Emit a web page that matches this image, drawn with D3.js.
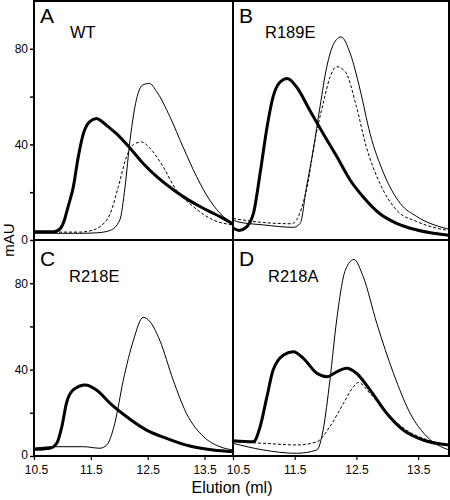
<!DOCTYPE html>
<html><head><meta charset="utf-8">
<script src="https://cdn.jsdelivr.net/npm/d3@7"></script>
<style>body{margin:0;background:#fff}svg{display:block;font-family:"Liberation Sans",Arial,sans-serif}</style>
</head><body><svg id="c" width="450" height="500"></svg>
<script>
// ---- data (elution ml, mAU) ----
const panelLetters = ["A","B","C","D"];
const panelNames = ["WT","R189E","R218E","R218A"];
const xTicks = [10.5,11.5,12.5,13.5];
const yTicks = [0,20,40,60,80];
const yTickLabels = [0,40,80];

const wtThick = [[10.5,3.5],[10.85,3.5],[10.95,4.5],[11.03,8],[11.1,14],[11.19,22],[11.28,35],[11.37,44.6],[11.48,49.5],[11.6,50.8],[11.7,49.5],[11.8,47.5],[11.95,44.5],[12.19,38.4],[12.42,32],[12.66,26.5],[12.95,21],[13.2,17],[13.42,14],[13.6,11.8],[13.77,9.8],[14.0,6.7]];
const wtThin = [[10.5,2.8],[11.3,2.8],[11.6,3],[11.84,4],[12.01,8.4],[12.1,22],[12.19,42],[12.3,58.6],[12.42,65],[12.53,65.5],[12.66,62],[12.89,51.6],[13.12,39],[13.36,26.5],[13.59,16.7],[13.83,9.8],[14.0,7]];
const wtDash = [[10.5,3.3],[11.3,3.3],[11.48,3.8],[11.66,5.6],[11.84,11],[11.98,22],[12.13,35],[12.25,40],[12.39,41],[12.54,38.4],[12.77,30.7],[13.0,21],[13.3,14],[13.65,8.4],[14.0,6.3]];

const r189eThick = [[10.5,5],[10.6,4],[10.7,5],[10.83,11],[10.94,28],[11.05,47],[11.15,60],[11.26,66],[11.38,67.6],[11.53,64],[11.75,54],[11.96,44.6],[12.18,35],[12.4,25],[12.61,18],[12.88,11],[13.15,7],[13.48,4.2],[14.0,2]];
const r189eThin = [[10.5,8.5],[10.56,7.7],[11.0,6.3],[11.48,5.3],[11.59,7],[11.69,22],[11.8,37.7],[11.91,55.8],[12.02,72.5],[12.13,82],[12.25,85],[12.4,78],[12.56,62.8],[12.72,44.6],[12.94,28],[13.21,15.3],[13.48,9.8],[14.0,4.5]];
const r189eDash = [[10.5,9],[11.0,7.3],[11.45,6.8],[11.53,8.4],[11.69,21],[11.85,44.6],[11.96,57],[12.07,68],[12.18,72.5],[12.32,70.4],[12.5,55.8],[12.66,39],[12.88,23.7],[13.15,12.5],[13.48,7.7],[14.0,3.9]];

const r218eThick = [[10.5,3.1],[10.78,3.6],[10.9,5.9],[10.99,13.6],[11.07,24.4],[11.19,30.6],[11.4,32.9],[11.6,30.6],[11.84,24.4],[12.13,18.2],[12.48,12],[12.83,8.2],[13.24,4.6],[13.65,2.8],[14.0,2]];
const r218eThin = [[10.5,3.6],[10.85,4.3],[11.37,4.3],[11.66,3.6],[11.78,5.1],[11.92,15],[12.07,35],[12.25,53.7],[12.42,64.2],[12.54,62.2],[12.71,53.7],[12.95,35],[13.18,19.8],[13.48,9],[13.77,4.3],[14.0,2.8]];

const r218aThick = [[10.5,7.1],[10.83,6.6],[10.94,13.6],[11.05,27.5],[11.15,39.8],[11.32,46.8],[11.48,48.3],[11.64,45.2],[11.86,38.3],[12.02,36.7],[12.18,39],[12.34,40.6],[12.5,38.3],[12.72,30.6],[12.99,19.8],[13.26,12],[13.58,7.4],[14.0,5.1]];
const r218aThin = [[10.5,5.9],[10.99,2.8],[11.53,1.25],[11.86,2.8],[11.96,12],[12.07,35],[12.18,63],[12.32,86],[12.46,91],[12.61,83],[12.83,61.4],[13.1,38.3],[13.37,19.8],[13.64,9],[14.0,2.8]];
const r218aDash = [[10.5,6.6],[10.99,5.9],[11.53,5.1],[11.86,6.6],[12.07,13.6],[12.29,24.4],[12.45,32],[12.53,34],[12.72,29],[12.99,19.8],[13.31,12],[13.69,7],[14.0,4.6]];

const panelSeries = [
  [{d:wtThin,t:"thin"},{d:wtDash,t:"dash"},{d:wtThick,t:"thick"}],
  [{d:r189eThin,t:"thin"},{d:r189eDash,t:"dash"},{d:r189eThick,t:"thick"}],
  [{d:r218eThin,t:"thin"},{d:r218eThick,t:"thick"}],
  [{d:r218aThin,t:"thin"},{d:r218aDash,t:"dash"},{d:r218aThick,t:"thick"}]
];

// ---- layout ----
const L=34, M=233, R=449, T=1, H=240, B=456;
const boxes = [
  {x0:L,x1:M,y0:T,y1:H},
  {x0:M,x1:R,y0:T,y1:H},
  {x0:L,x1:M,y0:H,y1:B},
  {x0:M,x1:R,y0:H,y1:B}
];
const svg = d3.select("#c");
const styles = {thin:{w:1,dash:null},dash:{w:1,dash:"3,2"},thick:{w:3,dash:null}};

boxes.forEach((b,i)=>{
  const x = d3.scaleLinear().domain([10.5,14.0]).range([b.x0,b.x1]);
  const y = d3.scaleLinear().domain([0,100]).range([b.y1,b.y0]);
  svg.append("clipPath").attr("id","clip"+i).append("rect")
    .attr("x",b.x0).attr("y",b.y0).attr("width",b.x1-b.x0).attr("height",b.y1-b.y0);
  const g = svg.append("g").attr("clip-path","url(#clip"+i+")");
  const line = d3.line().x(d=>x(d[0])).y(d=>y(d[1])).curve(d3.curveMonotoneX);
  panelSeries[i].forEach(s=>{
    g.append("path").attr("d",line(s.d)).attr("fill","none").attr("stroke","#000")
      .attr("stroke-width",styles[s.t].w).attr("stroke-dasharray",styles[s.t].dash)
      .attr("stroke-linejoin","round");
  });
  // y axis on left panels
  if (i===0||i===2){
    const ax = d3.axisLeft(y).tickValues(yTicks).tickSize(4).tickPadding(2)
      .tickFormat(d=>yTickLabels.includes(d)?d:"");
    const ga = svg.append("g").attr("transform","translate("+b.x0+",0)").call(ax);
    ga.select(".domain").remove();
    ga.selectAll("line").attr("stroke","#000").attr("stroke-width",1.5);
    ga.selectAll("text").attr("font-size",12).attr("fill","#000").attr("font-family","Liberation Sans, Arial, sans-serif");
    if (i===2) ga.selectAll("text").filter(d=>d===0).attr("dy","0.2em");
  }
  // x axis on bottom panels
  if (i>=2){
    const ax = d3.axisBottom(x).tickValues(xTicks).tickSize(4).tickPadding(5).tickFormat(d3.format(".1f"));
    const ga = svg.append("g").attr("transform","translate(0,"+b.y1+")").call(ax);
    ga.select(".domain").remove();
    ga.selectAll("line").attr("stroke","#000").attr("stroke-width",1.2);
    ga.selectAll("text").attr("font-size",12).attr("fill","#000").attr("font-family","Liberation Sans, Arial, sans-serif");
    if (i===3) ga.selectAll("text").filter(d=>d===10.5).attr("dx",5);
    if (i===2) ga.selectAll("text").filter(d=>d===10.5).attr("dx",2);
  }
  // panel labels
  svg.append("text").attr("x",b.x0+6).attr("y",b.y0+ (i<2?22:26)).attr("font-size",21).text(panelLetters[i]);
  svg.append("text").attr("x",b.x0+(i===0?36:(i===1?32:35))).attr("y",b.y0+(i<2?37:42)).attr("font-size",16.5).text(panelNames[i]);
});

// frame lines
const fr = svg.append("g").attr("stroke","#000").attr("stroke-width",2).attr("fill","none");
fr.append("rect").attr("x",L).attr("y",T).attr("width",R-L).attr("height",B-T);
fr.append("line").attr("x1",M).attr("x2",M).attr("y1",T).attr("y2",B);
fr.append("line").attr("x1",L).attr("x2",R).attr("y1",H).attr("y2",H);

// axis titles
svg.append("text").attr("transform","translate(14,240) rotate(-90)").attr("text-anchor","middle")
  .attr("font-size",15).text("mAU");
svg.append("text").attr("x",232).attr("y",493).attr("text-anchor","middle").attr("font-size",16).text("Elution (ml)");
</script></body></html>
